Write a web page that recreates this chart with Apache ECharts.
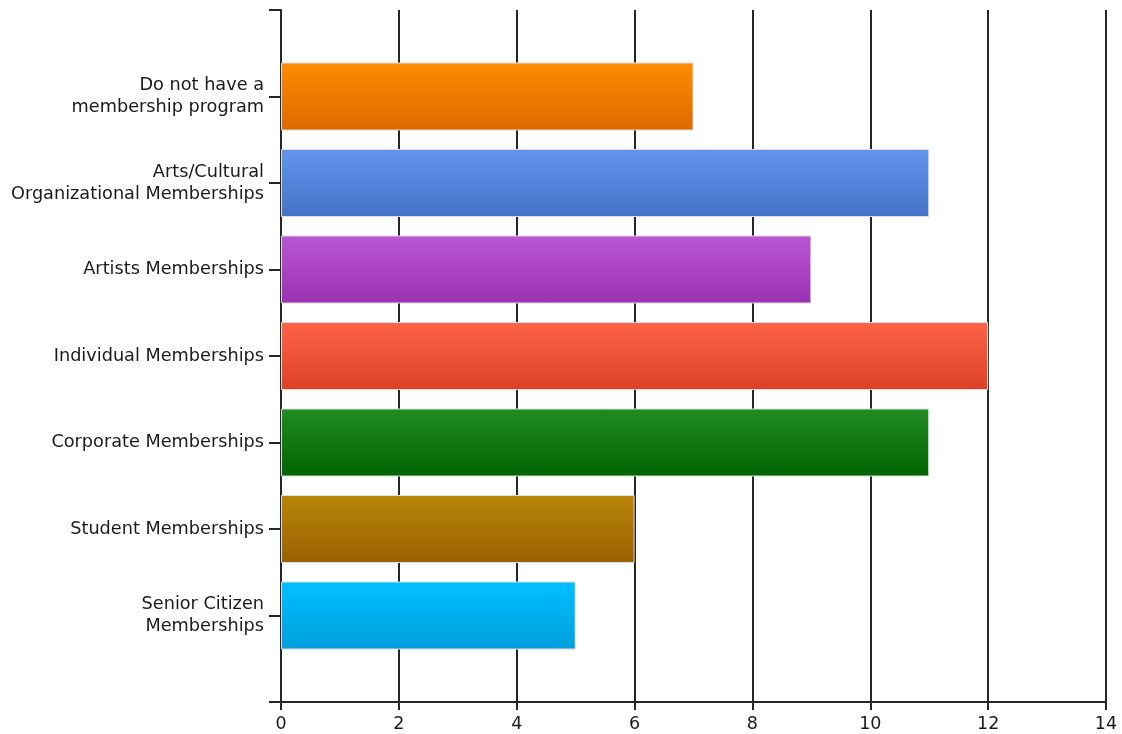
<!DOCTYPE html>
<html>
<head>
<meta charset="utf-8">
<script src="https://cdn.jsdelivr.net/npm/echarts@6/dist/echarts.min.js"></script>
<style>
  html, body { margin: 0; padding: 0; background: #fff; }
  #chart { width: 1122px; height: 734px; }
</style>
</head>
<body>
<div id="chart"></div>
<script>
// Categories listed bottom-to-top (ECharts category y-axis goes upward)
const categories = [
  'Senior Citizen\nMemberships',
  'Student Memberships',
  'Corporate Memberships',
  'Individual Memberships',
  'Artists Memberships',
  'Arts/Cultural\nOrganizational Memberships',
  'Do not have a\nmembership program'
];
const values = [5, 6, 11, 12, 9, 11, 7];
const topColors = ['#00BFFF', '#B8860B', '#228B22', '#FF6347', '#BA55D3', '#6495ED', '#FF8C00'];
const bottomColors = ['#00A0DC', '#996100', '#006400', '#DC4126', '#9932B0', '#4472C8', '#DC6A00'];
const xTicks = [0, 2, 4, 6, 8, 10, 12, 14];

// pad with an empty slot at each end so ticks fall at bar centres and at plot edges
const axisCats = [''].concat(categories, ['']);
const seriesData = [null].concat(values.map(function (v, i) {
  return {
    value: v,
    itemStyle: {
      color: new echarts.graphic.LinearGradient(0, 0, 0, 1, [
        { offset: 0, color: topColors[i] },
        { offset: 1, color: bottomColors[i] }
      ]),
      borderColor: '#dcdcdc',
      borderWidth: 1
    }
  };
}), [null]);

const lineCol = '#262626';
const chart = echarts.init(document.getElementById('chart'));
chart.setOption({
  animation: false,
  grid: { left: 281, right: 16, top: 10, bottom: 32, containLabel: false },
  xAxis: {
    type: 'value',
    min: xTicks[0],
    max: xTicks[xTicks.length - 1],
    interval: 2,
    axisLine: { show: true, lineStyle: { color: lineCol, width: 2 } },
    axisTick: { show: true, length: 8, lineStyle: { color: lineCol, width: 2 } },
    axisLabel: { color: '#1a1a1a', fontFamily: 'DejaVu Sans', fontSize: 17.5, margin: 13 },
    splitLine: { show: true, lineStyle: { color: lineCol, width: 2 } }
  },
  yAxis: {
    type: 'category',
    data: axisCats,
    boundaryGap: false,
    axisLine: { show: true, lineStyle: { color: lineCol, width: 2 } },
    axisTick: { show: true, length: 12, interval: 0, lineStyle: { color: lineCol, width: 2 } },
    axisLabel: {
      interval: 0, color: '#1a1a1a', fontFamily: 'DejaVu Sans', fontSize: 17.7,
      margin: 17, lineHeight: 22, align: 'right'
    },
    splitLine: { show: false }
  },
  series: [{
    type: 'bar',
    data: seriesData,
    barWidth: 68
  }]
});
</script>
</body>
</html>
